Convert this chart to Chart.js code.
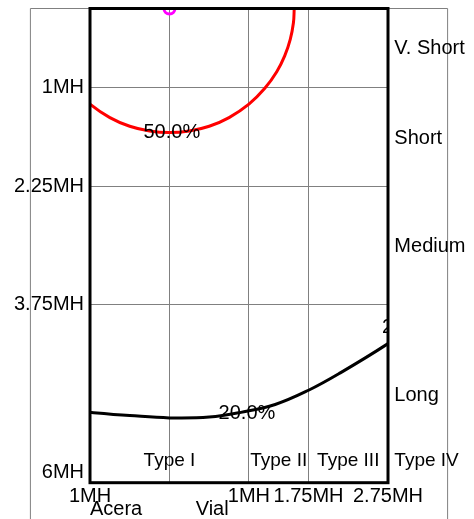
<!DOCTYPE html>
<html>
<head>
<meta charset="utf-8">
<script src="https://cdn.jsdelivr.net/npm/chart.js@4/dist/chart.umd.min.js"></script>
<style>html,body{margin:0;padding:0;background:#fff;overflow:hidden}</style>
</head>
<body>
<canvas id="c" width="474" height="519"></canvas>
<script>
// ---- data ----
const xTicks = [-1, 0, 1, 1.75, 2.75];
const xTickLabels = ['1MH', '', '1MH', '1.75MH', '2.75MH'];
const yTicks = [1, 2.25, 3.75, 6];
const yTickLabels = ['1MH', '2.25MH', '3.75MH', '6MH'];

const redX = [-1.2, -1.0, -0.75, -0.5, -0.25, 0, 0.25, 0.5, 0.75, 1.0, 1.2, 1.35, 1.45, 1.52, 1.56, 1.57];
const redY = [1.01, 1.21, 1.38, 1.49, 1.55, 1.57, 1.55, 1.49, 1.38, 1.21, 1.01, 0.80, 0.60, 0.39, 0.18, 0];

const blackX = [-1.2, -1.0, -0.5, 0, 0.5, 0.9, 1.33, 1.75, 2.15, 2.75, 3.05];
const blackY = [5.09, 5.11, 5.15, 5.18, 5.17, 5.11, 5.01, 4.83, 4.61, 4.24, 4.02];

const centerX = [0];
const centerY = [0];

const pctText = ['50.0%', '20.0%', '20.0%'];
const pctX = [0.03, 0.975, 3.03];
const pctY = [1.57, 5.12, 4.04];

const lengthLabels = ['V. Short', 'Short', 'Medium', 'Long'];
const lengthY = [0.5, 1.64, 3.01, 4.9];

const typeLabels = ['Type I', 'Type II', 'Type III'];
const typeX = [0, 1.375, 2.25];
const typeIVLabel = 'Type IV';
const typeY = 5.72;
const sideColumnX = 2.83;

const bottomLabels = ['Acera', 'Vial'];
const bottomX = [-1, 0.33];
const bottomY = 6.34;

const frameX = [-1.75, 3.5];

// ---- drawing ----
const FONT = '"Liberation Sans", Arial, sans-serif';
Chart.defaults.font.family = FONT;
const GRID = '#808080';

const pts = (xs, ys) => xs.map((x, i) => ({x: x, y: ys[i]}));

const decor = {
  id: 'decor',
  beforeDatasetsDraw(chart) {
    const {ctx, scales: {x, y}} = chart;
    ctx.save();
    ctx.strokeStyle = GRID;
    ctx.lineWidth = 1;
    const top = y.getPixelForValue(0);
    const xl = x.getPixelForValue(frameX[0]);
    const xr = x.getPixelForValue(frameX[1]);
    ctx.beginPath();
    ctx.moveTo(xl, chart.height);
    ctx.lineTo(xl, top);
    ctx.lineTo(xr, top);
    ctx.lineTo(xr, chart.height);
    ctx.stroke();
    ctx.restore();
  },
  afterDatasetsDraw(chart) {
    const {ctx, chartArea: a, scales: {x, y}} = chart;
    // curve labels, clipped to plot area
    ctx.save();
    ctx.beginPath();
    ctx.rect(a.left, a.top, a.right - a.left, a.bottom - a.top);
    ctx.clip();
    ctx.fillStyle = '#000';
    ctx.font = '20px ' + FONT;
    ctx.textAlign = 'center';
    ctx.textBaseline = 'middle';
    pctText.forEach((t, i) => ctx.fillText(t, x.getPixelForValue(pctX[i]), y.getPixelForValue(pctY[i])));
    ctx.restore();

    // thick frame
    ctx.save();
    ctx.strokeStyle = '#000';
    ctx.lineWidth = 3;
    ctx.strokeRect(a.left, a.top, a.right - a.left, a.bottom - a.top);
    ctx.restore();

    // annotations
    ctx.save();
    ctx.fillStyle = '#000';
    ctx.textBaseline = 'middle';
    ctx.font = '20px ' + FONT;
    ctx.textAlign = 'left';
    lengthLabels.forEach((t, i) => ctx.fillText(t, x.getPixelForValue(sideColumnX), y.getPixelForValue(lengthY[i])));
    ctx.font = '19px ' + FONT;
    ctx.fillText(typeIVLabel, x.getPixelForValue(sideColumnX), y.getPixelForValue(typeY));
    ctx.textAlign = 'center';
    typeLabels.forEach((t, i) => ctx.fillText(t, x.getPixelForValue(typeX[i]), y.getPixelForValue(typeY)));
    ctx.font = '20px ' + FONT;
    ctx.textAlign = 'left';
    bottomLabels.forEach((t, i) => ctx.fillText(t, x.getPixelForValue(bottomX[i]), y.getPixelForValue(bottomY)));
    ctx.restore();
  }
};

new Chart(document.getElementById('c'), {
  type: 'scatter',
  data: {
    datasets: [
      {
        data: pts(redX, redY), showLine: true, borderColor: '#ff0000', borderWidth: 3,
        pointRadius: 0, tension: 0.4, capBezierPoints: false, clip: 0, fill: false
      },
      {
        data: pts(blackX, blackY), showLine: true, borderColor: '#000000', borderWidth: 3,
        pointRadius: 0, tension: 0.4, capBezierPoints: false, clip: 0, fill: false
      },
      {
        data: pts(centerX, centerY), showLine: false, pointRadius: 5.5, borderWidth: 3,
        borderColor: '#ff00ff', backgroundColor: 'rgba(0,0,0,0)', clip: 0
      }
    ]
  },
  options: {
    responsive: false,
    animation: false,
    devicePixelRatio: 1,
    layout: {padding: {left: 0, top: 6.5, right: 86, bottom: 0}},
    plugins: {legend: {display: false}, tooltip: {enabled: false}},
    scales: {
      x: {
        type: 'linear', min: -1, max: 2.75,
        afterBuildTicks: s => { s.ticks = xTicks.map(v => ({value: v})); },
        afterFit: s => { s.height = 36.3; s.paddingLeft = 0; s.paddingRight = 0; },
        grid: {color: GRID, lineWidth: 1, drawTicks: false},
        border: {display: false},
        ticks: {
          autoSkip: false, maxRotation: 0, minRotation: 0, padding: 2, color: '#000',
          font: {size: 20, lineHeight: 1.2},
          callback: (v, i) => xTickLabels[i]
        }
      },
      y: {
        type: 'linear', reverse: true, min: 0, max: 6,
        afterBuildTicks: s => { s.ticks = yTicks.map(v => ({value: v})); },
        afterFit: s => { s.width = 90; s.paddingTop = 0; s.paddingBottom = 0; },
        grid: {color: GRID, lineWidth: 1, drawTicks: false},
        border: {display: false},
        ticks: {
          autoSkip: false, padding: 6, color: '#000',
          font: {size: 20, lineHeight: 1.0},
          callback: (v, i) => (i === yTicks.length - 1 ? [yTickLabels[i], ''] : yTickLabels[i])
        }
      }
    }
  },
  plugins: [decor]
});
</script>
</body>
</html>
